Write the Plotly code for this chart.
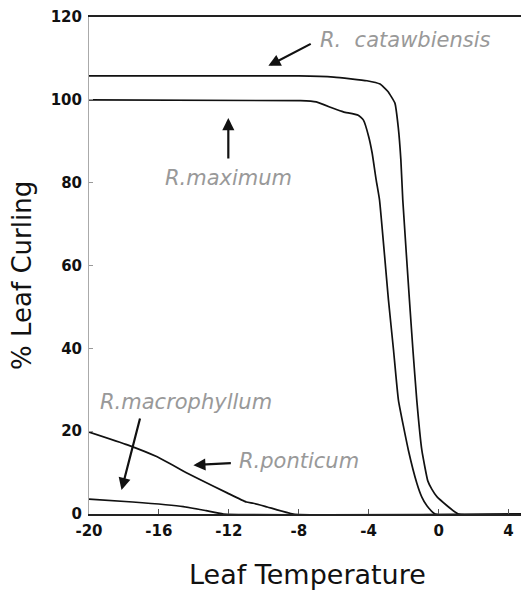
import plotly.graph_objects as go

# ---- data ----
cat_x = [-20, -8, -6, -4.1, -3.35, -2.9, -2.5, -2.31, -2.16, -2.05, -1.67, -1.47,
         -1.25, -0.96, -0.62, -0.39, -0.1, 1.13, 5.2]
cat_y = [105.8, 105.8, 105.5, 104.6, 103.8, 102, 99.2, 93.4, 85.5, 75.8, 51.7, 39.6,
         27.5, 15.4, 8.0, 6.0, 4.2, 0, 0]

max_x = [-20, -7.9, -7.0, -6.0, -5.45, -4.6, -4.3, -4.0, -3.8, -3.57, -3.38, -2.87,
         -2.58, -2.3, -1.73, -1.25, -0.96, -0.67, -0.2, 5.2]
max_y = [100, 99.8, 99.5, 97.9, 97.1, 96.3, 95.1, 91.1, 87.1, 80.6, 75.8, 51.7,
         39.6, 27.5, 15.4, 7.5, 4.1, 2.0, 0, 0]

pon_x = [-20, -17.8, -16.1, -14.4, -13.6, -12.1, -11.0, -10.6, -9.8, -8.3, 5.2]
pon_y = [19.8, 16.7, 13.8, 9.9, 8.2, 5.1, 2.9, 2.6, 1.7, 0, 0]

mac_x = [-20, -17.5, -14.6, -13.3, -12.3, 5.2]
mac_y = [3.6, 2.9, 1.8, 0.8, 0, 0]

x_ticks = [-20, -16, -12, -8, -4, 0, 4]
x_tick_text = ["-20", "-16", "-12", "-8", "-4", "0", "4"]
y_ticks = [0, 20, 40, 60, 80, 100, 120]

# labels: (text, text x, text y, arrow tail x, tail y, head x, head y)
labels = [
    ("R.  catawbiensis", -6.89, 114.4, -7.23, 113.7, -9.74, 108.2),
    ("R.maximum", -15.74, 81.1, -12.03, 85.5, -12.03, 95.6),
    ("R.macrophyllum", -19.51, 27.0, -17.06, 23.4, -18.14, 5.8),
    ("R.ponticum", -11.51, 12.8, -11.8, 12.3, -14.03, 11.8),
]

fig = go.Figure()
for xs, ys, nm in [(cat_x, cat_y, "R. catawbiensis"), (max_x, max_y, "R. maximum"),
                   (pon_x, pon_y, "R. ponticum"), (mac_x, mac_y, "R. macrophyllum")]:
    fig.add_trace(go.Scatter(x=xs, y=ys, mode="lines", name=nm,
                             line=dict(color="#111", width=1.7, shape="spline",
                                       smoothing=0.4),
                             showlegend=False))

annotations = []
for txt, tx, ty, ax_, ay_, hx, hy in labels:
    annotations.append(dict(x=tx, y=ty, xref="x", yref="y", text=txt, showarrow=False,
                            xanchor="left", yanchor="middle",
                            font=dict(family="DejaVu Sans", size=21, color="#999999",
                                      style="italic")))
    annotations.append(dict(x=hx, y=hy, xref="x", yref="y", ax=ax_, ay=ay_,
                            axref="x", ayref="y", text="", showarrow=True,
                            arrowhead=2, arrowsize=1.1, arrowwidth=2.2,
                            arrowcolor="#111"))

# axis titles
annotations.append(dict(x=0.4955, y=-0.1227, xref="paper", yref="paper",
                        text="Leaf Temperature", showarrow=False,
                        xanchor="center", yanchor="middle",
                        font=dict(family="DejaVu Sans", size=27, color="#111")))
annotations.append(dict(x=-0.1523, y=0.481, xref="paper", yref="paper",
                        text="% Leaf Curling", showarrow=False, textangle=-90,
                        xanchor="center", yanchor="middle",
                        font=dict(family="DejaVu Sans", size=26, color="#111")))

# the page body adds an 8px offset, so the figure is sized to fit the window
fig.update_layout(
    width=521, height=583,
    margin=dict(l=81, r=0, t=9, b=77),
    paper_bgcolor="white", plot_bgcolor="white",
    showlegend=False,
    annotations=annotations,
    xaxis=dict(range=[-20, 5.17], tickvals=x_ticks, ticktext=x_tick_text,
               ticks="inside", ticklen=5, automargin=False,
               tickcolor="#555", showline=True, mirror=True, linecolor="#222",
               linewidth=1.5, showgrid=False, zeroline=False, ticklabelstandoff=2,
               tickfont=dict(family="DejaVu Sans", size=15, color="#111", weight="bold")),
    yaxis=dict(range=[0, 120], tickvals=y_ticks, ticks="inside", ticklen=4,
               automargin=False,
               tickcolor="#999", showline=True, linecolor="#aaa", linewidth=1,
               showgrid=False, zeroline=False, ticklabelstandoff=3,
               tickfont=dict(family="DejaVu Sans", size=15, color="#111", weight="bold")),
)

fig.write_html("out.html")
